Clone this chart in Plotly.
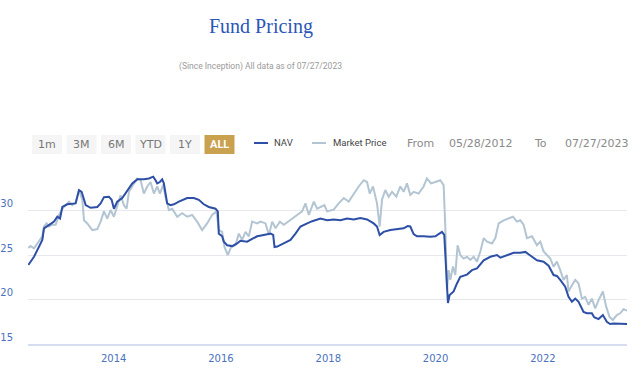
import plotly.graph_objects as go
from datetime import datetime

# ---- data (decimal year, price) ----
nav_years = [2012.41, 2012.516, 2012.671, 2012.702, 2012.826, 2012.888, 2012.950, 2013.000, 2013.043,
             2013.136, 2013.291, 2013.354, 2013.403, 2013.478, 2013.571, 2013.695, 2013.757, 2013.819,
             2013.912, 2013.962, 2014.005, 2014.067, 2014.160, 2014.254, 2014.347, 2014.440, 2014.564,
             2014.657, 2014.738, 2014.781, 2014.812, 2014.862, 2014.905, 2014.936, 2014.998, 2015.061,
             2015.123, 2015.216, 2015.371, 2015.495, 2015.588, 2015.681, 2015.774, 2015.899, 2015.942,
             2015.961, 2016.023, 2016.054, 2016.116, 2016.209, 2016.302, 2016.364, 2016.488, 2016.581,
             2016.674, 2016.798, 2016.923, 2016.972, 2016.997, 2017.047, 2017.171, 2017.295, 2017.388,
             2017.481, 2017.606, 2017.699, 2017.854, 2017.977, 2018.101, 2018.225, 2018.350, 2018.474,
             2018.598, 2018.722, 2018.846, 2018.908, 2018.958, 2019.032, 2019.157, 2019.281, 2019.405,
             2019.479, 2019.529, 2019.591, 2019.653, 2019.777, 2019.901, 2019.995, 2020.119, 2020.162,
             2020.199, 2020.230, 2020.261, 2020.336, 2020.398, 2020.460, 2020.584, 2020.677, 2020.770,
             2020.895, 2021.019, 2021.143, 2021.205, 2021.329, 2021.453, 2021.577, 2021.671, 2021.764,
             2021.888, 2022.012, 2022.105, 2022.198, 2022.260, 2022.322, 2022.415, 2022.477, 2022.540,
             2022.602, 2022.664, 2022.757, 2022.819, 2022.912, 2022.955, 2023.036, 2023.117, 2023.191,
             2023.253, 2023.315, 2023.440, 2023.570]
nav_values = [23.88, 24.8, 26.7, 28.0, 28.5, 28.75, 29.3, 29.1, 30.4,
              30.7, 30.8, 32.3, 32.1, 30.6, 30.3, 30.4, 30.8, 31.5,
              31.55, 31.2, 30.2, 31.0, 31.4, 32.3, 33.05, 33.5, 33.5,
              33.6, 33.8, 33.4, 33.05, 33.2, 33.5, 33.05, 30.8, 30.6,
              30.7, 31.0, 31.4, 31.4, 31.2, 30.7, 30.4, 30.2, 29.9,
              27.4, 27.1, 26.5, 26.1, 26.0, 26.3, 26.6, 26.5, 26.8,
              27.1, 27.25, 27.4, 27.25, 25.9, 25.95, 26.3, 26.7, 27.4,
              28.2, 28.55, 28.8, 29.1, 28.9, 29.0, 28.9, 29.1, 29.0,
              29.15, 29.0, 28.55, 28.2, 27.25, 27.6, 27.8, 27.9, 28.0,
              28.25, 28.2, 27.35, 27.1, 27.1, 27.05, 27.1, 27.6, 27.25,
              23.3, 19.6, 20.5, 20.9, 21.8, 22.55, 22.8, 23.3, 23.5,
              24.4, 24.8, 25.0, 24.7, 24.95, 25.25, 25.25, 25.35, 24.95,
              24.4, 24.25, 23.8, 22.75, 22.65, 22.2, 21.45, 20.3, 19.75,
              20.1, 19.75, 18.6, 18.45, 18.45, 18.0, 17.8, 18.25, 17.5,
              17.25, 17.3, 17.3, 17.25]

mkt_years = [2012.41, 2012.453, 2012.516, 2012.609, 2012.671, 2012.702, 2012.751, 2012.795, 2012.857,
             2012.919, 2012.981, 2013.043, 2013.105, 2013.167, 2013.229, 2013.291, 2013.354, 2013.416,
             2013.447, 2013.509, 2013.602, 2013.695, 2013.757, 2013.819, 2013.881, 2013.943, 2014.005,
             2014.067, 2014.129, 2014.192, 2014.241, 2014.285, 2014.378, 2014.440, 2014.502, 2014.564,
             2014.626, 2014.688, 2014.750, 2014.812, 2014.862, 2014.924, 2014.967, 2015.030, 2015.092,
             2015.185, 2015.278, 2015.371, 2015.464, 2015.557, 2015.650, 2015.743, 2015.836, 2015.917,
             2015.961, 2016.023, 2016.066, 2016.128, 2016.190, 2016.271, 2016.333, 2016.395, 2016.457,
             2016.519, 2016.581, 2016.674, 2016.736, 2016.830, 2016.892, 2016.954, 2017.016, 2017.097,
             2017.171, 2017.295, 2017.419, 2017.512, 2017.574, 2017.637, 2017.730, 2017.792, 2017.854,
             2017.927, 2017.977, 2018.101, 2018.194, 2018.288, 2018.381, 2018.474, 2018.567, 2018.660,
             2018.722, 2018.772, 2018.834, 2018.908, 2018.958, 2019.001, 2019.063, 2019.125, 2019.188,
             2019.268, 2019.343, 2019.405, 2019.467, 2019.529, 2019.591, 2019.684, 2019.777, 2019.839,
             2019.914, 2019.995, 2020.088, 2020.150, 2020.181, 2020.212, 2020.243, 2020.274, 2020.324,
             2020.367, 2020.410, 2020.460, 2020.522, 2020.584, 2020.646, 2020.708, 2020.770, 2020.833,
             2020.895, 2020.957, 2021.050, 2021.112, 2021.174, 2021.267, 2021.360, 2021.441, 2021.515,
             2021.577, 2021.639, 2021.702, 2021.795, 2021.888, 2021.950, 2022.012, 2022.074, 2022.136,
             2022.198, 2022.260, 2022.322, 2022.384, 2022.446, 2022.477, 2022.540, 2022.602, 2022.664,
             2022.726, 2022.788, 2022.850, 2022.912, 2022.974, 2023.036, 2023.117, 2023.179, 2023.241,
             2023.303, 2023.378, 2023.440, 2023.502, 2023.570]
mkt_values = [25.8, 26.0, 25.75, 26.5, 27.1, 28.2, 28.55, 28.2, 28.4,
              28.4, 29.5, 30.2, 30.6, 31.0, 30.6, 30.9, 32.3, 31.2,
              28.9, 28.55, 27.8, 27.9, 28.75, 29.9, 29.1, 30.05, 29.3,
              30.4, 31.7, 30.6, 30.2, 32.1, 33.0, 33.6, 33.4, 31.9,
              32.7, 33.2, 31.9, 32.7, 31.9, 32.9, 31.55, 30.05, 30.2,
              29.3, 29.7, 29.3, 29.5, 28.75, 27.8, 28.55, 29.5, 29.9,
              27.8, 27.6, 25.9, 25.0, 25.9, 26.1, 27.4, 26.7, 27.6,
              27.1, 28.75, 28.55, 28.75, 28.55, 27.25, 28.75, 28.0, 28.75,
              28.4, 28.9, 29.5, 29.9, 30.8, 29.5, 31.0, 30.2, 30.4,
              30.6, 29.9, 30.1, 30.8, 31.4, 31.0, 31.9, 32.7, 33.4,
              33.2, 31.9, 32.7, 30.8, 28.2, 31.2, 32.3, 31.55, 32.1,
              31.55, 32.7, 32.1, 33.05, 31.75, 32.1, 31.9, 32.7, 33.6,
              33.05, 33.2, 33.4, 32.85, 28.2, 21.05, 23.3, 22.2, 23.7,
              22.75, 26.1, 25.0, 24.6, 24.8, 24.45, 24.8, 24.25, 25.4,
              26.9, 26.5, 26.3, 26.9, 28.55, 28.9, 29.1, 29.3, 28.75,
              28.9, 28.4, 26.9, 27.1, 26.1, 26.5, 25.4, 25.0, 24.6,
              23.7, 24.25, 23.3, 22.2, 22.75, 20.9, 21.6, 22.2, 21.8,
              20.1, 20.3, 19.4, 20.1, 19.0, 19.9, 20.9, 19.2, 18.05,
              17.7, 18.25, 18.45, 18.9, 18.75]

x_tick_years = [2014, 2016, 2018, 2020, 2022]
y_tick_values = [15, 20, 25, 30, 35]
y_tick_labels = ["15", "20", "25", "30", ""]
range_buttons = ["1m", "3M", "6M", "YTD", "1Y", "ALL"]
series_names = ["NAV", "Market Price"]
start_date = "05/28/2012"
end_date = "07/27/2023"


def to_date(y):
    yr = int(y)
    a = datetime(yr, 1, 1)
    b = datetime(yr + 1, 1, 1)
    return a + (y - yr) * (b - a)


NAV_COLOR = "#2d4fa6"
MKT_COLOR = "#b3c5d3"

fig = go.Figure()
fig.add_trace(go.Scatter(x=[to_date(v) for v in mkt_years], y=mkt_values, mode="lines",
                         name=series_names[1], line=dict(color=MKT_COLOR, width=2)))
fig.add_trace(go.Scatter(x=[to_date(v) for v in nav_years], y=nav_values, mode="lines",
                         name=series_names[0], line=dict(color=NAV_COLOR, width=2)))

# plot area in pixels
L, R, T, B = 28, 627, 166, 344
W, H = R - L, B - T


def px(x):
    return (x - L) / W


def py(y):
    return (B - y) / H


shapes = []
annotations = []

# title + subtitle
annotations.append(dict(text="Fund Pricing", x=px(260.5), y=py(26), xref="paper", yref="paper",
                        xanchor="center", yanchor="middle", showarrow=False,
                        font=dict(family="Liberation Serif", size=20, color="#2a57b8")))
annotations.append(dict(text="(Since Inception) All data as of " + end_date, x=px(260.5), y=py(66.5),
                        xref="paper", yref="paper", xanchor="center", yanchor="middle", showarrow=False,
                        font=dict(family="Roboto", size=8.5, color="#9a9a9a")))

# range buttons
btn_left = [32, 66.5, 101, 135.5, 170, 204.5]
for lbl, bx in zip(range_buttons, btn_left):
    active = lbl == "ALL"
    shapes.append(dict(type="rect", xref="paper", yref="paper", x0=px(bx), x1=px(bx + 30),
                       y0=py(154), y1=py(135), line=dict(width=0),
                       fillcolor="#c9a14f" if active else "#f5f5f5"))
    annotations.append(dict(text=("<b>%s</b>" % lbl) if active else lbl, x=px(bx + 15), y=py(144.5),
                            xref="paper", yref="paper", xanchor="center", yanchor="middle",
                            showarrow=False,
                            font=dict(family="Roboto" if active else "DejaVu Sans",
                                      size=11, color="#ffffff" if active else "#777777")))

# legend
legend_items = [(series_names[0], NAV_COLOR, 254, 272), (series_names[1], MKT_COLOR, 312, 331)]
for name, col, lx, tx in legend_items:
    shapes.append(dict(type="line", xref="paper", yref="paper", x0=px(lx), x1=px(lx + 14),
                       y0=py(143), y1=py(143), line=dict(color=col, width=2)))
    annotations.append(dict(text=name, x=px(tx), y=py(142.5), xref="paper", yref="paper",
                            xanchor="left", yanchor="middle", showarrow=False,
                            font=dict(family="Roboto", size=9.5, color="#444444")))

# date range inputs
for txt, tx in [("From", 405), (start_date, 447), ("To", 532), (end_date, 563)]:
    annotations.append(dict(text=txt, x=px(tx), y=py(143), xref="paper", yref="paper",
                            xanchor="left", yanchor="middle", showarrow=False,
                            font=dict(family="DejaVu Sans", size=11, color="#8a8a8a")))

fig.update_layout(
    width=640, height=373,
    margin=dict(l=L, r=640 - R, t=T, b=373 - B, autoexpand=False),
    paper_bgcolor="white", plot_bgcolor="white",
    showlegend=False,
    shapes=shapes, annotations=annotations,
    xaxis=dict(range=["2012-05-28", "2023-07-27"], automargin=False,
               tickvals=[datetime(y, 1, 1) for y in x_tick_years],
               ticktext=[str(y) for y in x_tick_years],
               showgrid=False, zeroline=False, showline=True, linecolor="#d6ddee", linewidth=2,
               ticks="", ticklabelstandoff=4,
               tickfont=dict(family="DejaVu Sans", size=10, color="#4a72c0")),
    yaxis=dict(range=[15, 35], tickvals=y_tick_values, ticktext=y_tick_labels, automargin=False,
               showgrid=True, gridcolor="#e6e8ee", gridwidth=1, zeroline=False, showline=False,
               ticks="", ticklabelposition="outside top", ticklabelstandoff=14,
               tickfont=dict(family="DejaVu Sans", size=10, color="#4a72c0")),
)

fig.write_html("out.html", config={"displayModeBar": False},
               post_script="document.body.style.margin='0';")
